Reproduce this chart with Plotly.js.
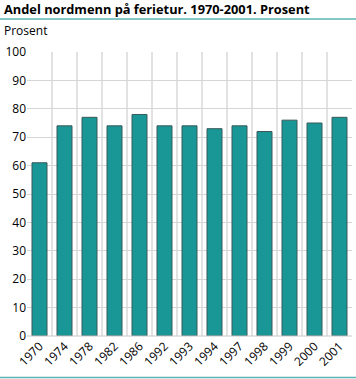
<!DOCTYPE html>
<html><head><meta charset="utf-8">
<script src="https://cdn.plot.ly/plotly-3.0.1.min.js"></script>
<style>html,body{margin:0;padding:0;background:#fff}#c{width:356px;height:379px}</style>
</head><body><div id="c"></div>
<script>
var years = ["1970","1974","1978","1982","1986","1992","1993","1994","1997","1998","1999","2000","2001"];
var values = [61,74,77,74,78,74,74,73,74,72,76,75,77];
var yTicks = [0,10,20,30,40,50,60,70,80,90,100];

var W=356,H=379,L=27,R=4,T=52,B=43;
var pw=W-L-R, ph=H-T-B;
function px(x){return (x-L)/pw;}
function py(y){return (H-B-y)/ph;}

var trace = {
  type:'bar', x:years, y:values,
  marker:{color:'#199696', line:{color:'#3a5a5a', width:1}},
  width:0.6, hoverinfo:'skip'
};
var layout = {
  width:W, height:H, margin:{l:L,r:R,t:T,b:B},
  paper_bgcolor:'#fff', plot_bgcolor:'#fff',
  font:{family:'Open Sans, DejaVu Sans, sans-serif', size:12, color:'#000'},
  showlegend:false,
  xaxis:{type:'category', tickson:'boundaries', showgrid:true, gridcolor:'#e2e2e2', gridwidth:2,
    ticks:'', tickangle:-45, tickfont:{size:12}, showline:false, zeroline:false, fixedrange:true},
  yaxis:{range:[0,100], tickvals:yTicks, showgrid:true, gridcolor:'#d6d6d6', gridwidth:1,
    ticks:'', tickfont:{size:12}, zeroline:false, showline:false, fixedrange:true},
  shapes:[
    {type:'line', xref:'paper', yref:'paper', x0:px(0), x1:px(356), y0:py(19), y1:py(19), line:{color:'#5ab4b4', width:1.5}},
    {type:'line', xref:'paper', yref:'paper', x0:px(0), x1:px(356), y0:py(377.5), y1:py(377.5), line:{color:'#5ab4b4', width:1.5}},
    {type:'line', xref:'paper', yref:'paper', x0:0, x1:1, y0:0, y1:0, line:{color:'#c8c8c8', width:1}}
  ],
  annotations:[
    {xref:'paper', yref:'paper', x:px(2), y:py(9), xanchor:'left', yanchor:'middle', showarrow:false,
     text:'<b>Andel nordmenn på ferietur. 1970-2001. Prosent</b>', font:{size:12.8, color:'#000'}},
    {xref:'paper', yref:'paper', x:px(2), y:py(31), xanchor:'left', yanchor:'middle', showarrow:false,
     text:'Prosent', font:{size:12, color:'#000'}}
  ]
};
Plotly.newPlot('c',[trace],layout,{displayModeBar:false,staticPlot:true});
</script></body></html>
